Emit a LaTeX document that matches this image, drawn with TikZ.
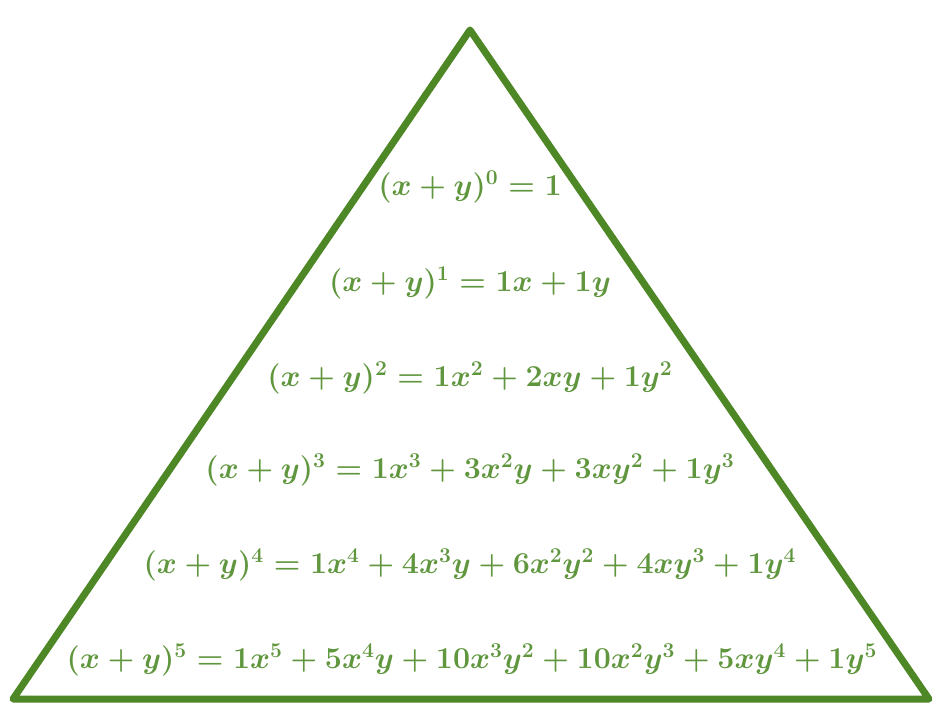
\documentclass[tikz,border=0pt]{standalone}
\usepackage{bm}
\definecolor{pyrline}{RGB}{78,135,38}
\definecolor{pyrtext}{RGB}{96,150,62}
\begin{document}
\begin{tikzpicture}[x=0.02cm, y=-0.02cm, line join=round, line cap=round,
  row/.style={text=pyrtext, font=\fontsize{17.8}{21}\selectfont\boldmath, inner sep=0pt}]
	\useasboundingbox (0,0) rectangle (940,725);
	\coordinate (top) at (470,30);
	\coordinate (bl) at (13,699);
	\coordinate (br) at (929,699);
	\draw[pyrline, line width=4pt] (top) -- (br) -- (bl) -- cycle;
	\node[row] (r0) at (470,187) {$(x+y)^0 = 1$};
	\node[row] (r1) at (470,283) {$(x+y)^1 = 1x + 1y$};
	\node[row] (r2) at (470,378) {$(x+y)^2 = 1x^2 + 2xy + 1y^2$};
	\node[row] (r3) at (470,470) {$(x+y)^3 = 1x^3 + 3x^2y + 3xy^2 + 1y^3$};
	\node[row] (r4) at (470,565) {$(x+y)^4 = 1x^4 + 4x^3y + 6x^2y^2 + 4xy^3 + 1y^4$};
	\node[row] (r5) at (472,660) {$(x+y)^5 = 1x^5 + 5x^4y + 10x^3y^2 + 10x^2y^3 + 5xy^4 + 1y^5$};
\end{tikzpicture}
\end{document}
